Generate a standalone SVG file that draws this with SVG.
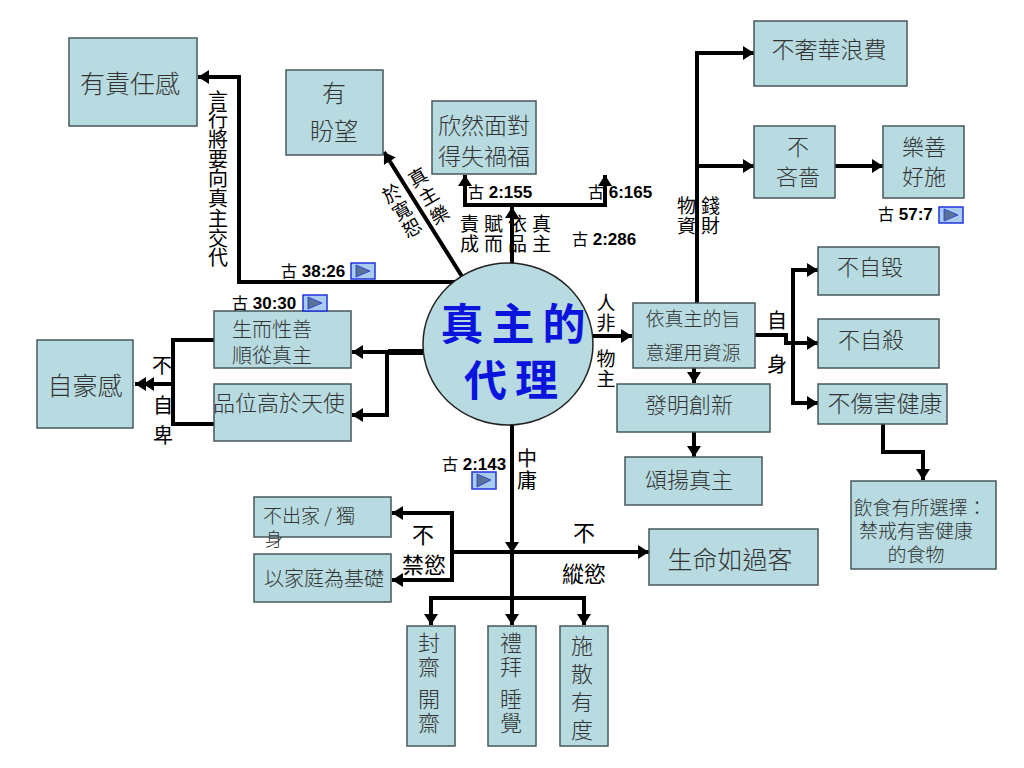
<svg xmlns="http://www.w3.org/2000/svg" width="1024" height="768" viewBox="0 0 1024 768">
<style>
.b{fill:#b7dbe0;stroke:#46585c;stroke-width:1.5}
.t{font-family:"Noto Sans CJK TC","Liberation Serif",serif;font-weight:300;fill:#333;text-anchor:middle}
.l{font-family:"Noto Sans CJK TC","Liberation Sans",sans-serif;font-size:20px;fill:#000;text-anchor:middle}
.s{text-anchor:start;font-size:19px;letter-spacing:5px}
.v{writing-mode:vertical-rl;text-anchor:start;font-size:19px}
.r{font-family:"Liberation Sans","Noto Sans CJK TC",sans-serif;font-size:17px;font-weight:bold;fill:#000}
.r tspan{font-weight:normal;font-family:"Noto Sans CJK TC",sans-serif;font-size:16px}
.c{fill:none;stroke:#000;stroke-width:4}
.m{font-family:"Noto Sans CJK TC",sans-serif;font-size:43px;font-weight:bold;fill:#0a14dc;text-anchor:middle;letter-spacing:8px}
.btn{fill:#a9cdee;stroke:#2233dd;stroke-width:1.5}
.tri{fill:#5a7295;stroke:#2233dd;stroke-width:.8}
</style>
<defs>
<marker id="a" markerUnits="userSpaceOnUse" markerWidth="12" markerHeight="14" refX="11" refY="7" orient="auto"><path d="M0 0L11 7L0 14Z" fill="#000"/></marker>
</defs>
<g id="connectors">
<path class="c" marker-end="url(#a)" d="M466 282H239V77H198"/>
<path class="c" marker-end="url(#a)" d="M463 278L384 152"/>
<path class="c" marker-end="url(#a)" d="M512 264V207"/>
<path class="c" marker-end="url(#a)" d="M512 205H465V175"/>
<path class="c" marker-end="url(#a)" d="M512 205H605V175"/>
<path class="c" marker-end="url(#a)" d="M592 336H632"/>
<path class="c" marker-end="url(#a)" d="M697 304V53H754"/>
<path class="c" marker-end="url(#a)" d="M697 166H754"/>
<path class="c" marker-end="url(#a)" d="M835 166H883"/>
<path class="c" marker-end="url(#a)" d="M694 368V383"/>
<path class="c" marker-end="url(#a)" d="M694 432V457"/>
<path class="c" marker-end="url(#a)" d="M755 335H786V343H818"/>
<path class="c" marker-end="url(#a)" d="M793 343V270H818"/>
<path class="c" marker-end="url(#a)" d="M793 343V403H818"/>
<path class="c" marker-end="url(#a)" d="M883 424V452H923V480"/>
<path d="M424 352H388" stroke="#000" stroke-width="6" fill="none"/>
<path class="c" marker-end="url(#a)" d="M390 352H352"/>
<path class="c" marker-end="url(#a)" d="M387 352V415H352"/>
<path class="c" d="M214 340H173V424H214"/>
<path class="c" marker-end="url(#a)" d="M173 384H135"/>
<path class="c" marker-end="url(#a)" d="M173 384H143"/>
<path class="c" marker-end="url(#a)" d="M512 424V553"/>
<path class="c" marker-end="url(#a)" d="M452 552H649"/>
<path class="c" marker-end="url(#a)" d="M452 552V513H392"/>
<path class="c" marker-end="url(#a)" d="M452 552V580H392"/>
<path class="c" d="M512 553V598"/>
<path class="c" marker-end="url(#a)" d="M512 598V625"/>
<path class="c" marker-end="url(#a)" d="M512 598H431V625"/>
<path class="c" marker-end="url(#a)" d="M512 598H584V625"/>
</g>
<g id="n-center"><ellipse class="b" cx="508" cy="344" rx="85" ry="81" style="stroke:#222"/>
<text class="m" x="517" y="340">真主的</text>
<text class="m" x="515" y="396">代理</text></g>
<g id="n1"><rect class="b" x="69" y="38" width="128" height="88"/><text class="t" x="130" y="93" font-size="25">有責任感</text></g>
<g id="n2"><rect class="b" x="286" y="70" width="97" height="85"/><text class="t" x="334" y="102" font-size="24">有</text><text class="t" x="334" y="140" font-size="24">盼望</text></g>
<g id="n3"><rect class="b" x="432" y="101" width="104" height="73"/><text class="t" x="484" y="134" font-size="23">欣然面對</text><text class="t" x="484" y="165" font-size="23">得失禍福</text></g>
<g id="n4"><rect class="b" x="754" y="21" width="153" height="65"/><text class="t" x="829" y="58" font-size="23">不奢華浪費</text></g>
<g id="n5"><rect class="b" x="754" y="126" width="81" height="72"/><text class="t" x="798" y="155" font-size="22">不</text><text class="t" x="798" y="185" font-size="22">吝嗇</text></g>
<g id="n6"><rect class="b" x="883" y="126" width="81" height="72"/><text class="t" x="924" y="155" font-size="22">樂善</text><text class="t" x="924" y="185" font-size="22">好施</text></g>
<g id="n7"><rect class="b" x="818" y="247" width="121" height="48"/><text class="t" x="870" y="275" font-size="22">不自毀</text></g>
<g id="n8"><rect class="b" x="818" y="319" width="121" height="49"/><text class="t" x="871" y="348" font-size="22">不自殺</text></g>
<g id="n9"><rect class="b" x="818" y="384" width="129" height="40"/><text class="t" x="885" y="412" font-size="23">不傷害健康</text></g>
<g id="n10"><rect class="b" x="851" y="481" width="145" height="88"/><text class="t" x="920" y="515" font-size="19">飲食有所選擇：</text><text class="t" x="916" y="538" font-size="19">禁戒有害健康</text><text class="t" x="916" y="562" font-size="19">的食物</text></g>
<g id="n11"><rect class="b" x="633" y="303" width="122" height="65"/><text class="t" x="693" y="326" font-size="19">依真主的旨</text><text class="t" x="693" y="360" font-size="19">意運用資源</text></g>
<g id="n12"><rect class="b" x="617" y="384" width="153" height="48"/><text class="t" x="689" y="413" font-size="22">發明創新</text></g>
<g id="n13"><rect class="b" x="625" y="457" width="137" height="48"/><text class="t" x="689" y="488" font-size="22">頌揚真主</text></g>
<g id="n14"><rect class="b" x="214" y="311" width="137" height="57"/><text class="t" x="272" y="337" font-size="20">生而性善</text><text class="t" x="272" y="363" font-size="20">順從真主</text></g>
<g id="n15"><rect class="b" x="214" y="384" width="137" height="57"/><text class="t" x="279" y="411" font-size="22">品位高於天使</text></g>
<g id="n16"><rect class="b" x="37" y="340" width="96" height="88"/><text class="t" x="85" y="395" font-size="25">自豪感</text></g>
<g id="n17"><rect class="b" x="254" y="497" width="137" height="40"/><text class="t" x="309" y="523" font-size="19">不出家 / 獨</text><text class="t" x="274" y="546" font-size="18">身</text></g>
<g id="n18"><rect class="b" x="254" y="554" width="137" height="48"/><text class="t" x="324" y="586" font-size="20">以家庭為基礎</text></g>
<g id="n19"><rect class="b" x="649" y="529" width="169" height="56"/><text class="t" x="730" y="569" font-size="25">生命如過客</text></g>
<g id="n20"><rect class="b" x="407" y="626" width="48" height="120"/><text class="t v" x="429" y="632" style="font-size:22px;letter-spacing:2px">封齋</text><text class="t v" x="429" y="688" style="font-size:22px;letter-spacing:2px">開齋</text></g>
<g id="n21"><rect class="b" x="488" y="626" width="48" height="120"/><text class="t v" x="511" y="632" style="font-size:22px;letter-spacing:2px">禮拜</text><text class="t v" x="511" y="688" style="font-size:22px;letter-spacing:2px">睡覺</text></g>
<g id="n22"><rect class="b" x="560" y="626" width="48" height="120"/><text class="t v" x="582" y="635" style="font-size:22px;letter-spacing:6px">施散有度</text></g>
<g id="labels">
<text class="l v" x="218" y="90" style="font-size:20px;letter-spacing:-.3px">言行將要向真主交代</text>
<text class="l v" transform="translate(413 169) rotate(-30)" x="0" y="0" style="letter-spacing:2.5px">真主樂</text>
<text class="l v" transform="translate(387 185) rotate(-30)" x="0" y="0" style="letter-spacing:1px">於寬恕</text>
<text class="l s" x="460" y="231">責賦依真</text>
<text class="l s" x="460" y="251">成而品主</text>
<text class="l v" x="606" y="293" style="letter-spacing:1px">人非</text>
<text class="l v" x="606" y="349" style="letter-spacing:1px">物主</text>
<text class="l s" x="677" y="213">物錢</text><text class="l s" x="677" y="233">資財</text>
<text class="l" x="777" y="328">自</text><text class="l" x="777" y="372">身</text>
<text class="l" x="162" y="373">不</text><text class="l v" x="163" y="395" style="font-size:20px;letter-spacing:10px">自卑</text>
<text class="l v" x="527" y="448" style="font-size:20px;letter-spacing:2px">中庸</text>
<text class="l" x="423" y="543" style="font-size:22px">不</text><text class="l" x="424" y="573" style="font-size:22px">禁慾</text>
<text class="l" x="584" y="541" style="font-size:22px">不</text><text class="l" x="584" y="582" style="font-size:22px">縱慾</text>
<text class="r" x="281" y="277"><tspan>古</tspan> 38:26</text><text class="r" x="232" y="309"><tspan>古</tspan> 30:30</text><text class="r" x="468" y="198"><tspan>古</tspan> 2:155</text><text class="r" x="588" y="198"><tspan>古</tspan> 6:165</text><text class="r" x="572" y="245"><tspan>古</tspan> 2:286</text><text class="r" x="878" y="220"><tspan>古</tspan> 57:7</text><text class="r" x="442" y="470"><tspan>古</tspan> 2:143</text>
</g>
<g id="buttons">
<rect class="btn" x="351" y="263" width="24" height="16"/><path class="tri" d="M356 265L370 271L356 277Z"/>
<rect class="btn" x="303" y="295" width="24" height="16"/><path class="tri" d="M308 297L322 303L308 309Z"/>
<rect class="btn" x="472" y="472" width="24" height="17"/><path class="tri" d="M477 474L491 480L477 487Z"/>
<rect class="btn" x="939" y="207" width="24" height="16"/><path class="tri" d="M944 209L958 215L944 221Z"/>
</g>
</svg>
